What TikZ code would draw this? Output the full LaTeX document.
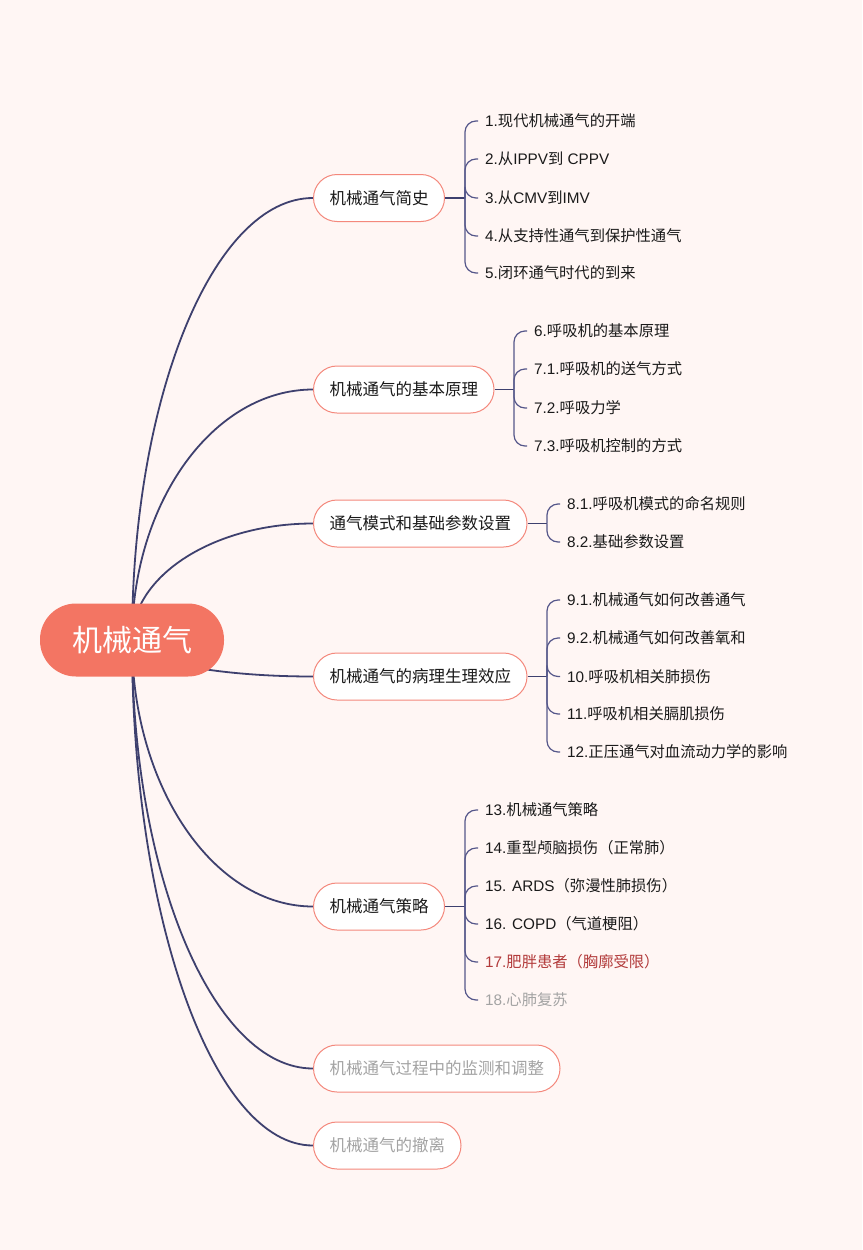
\documentclass[tikz,border=0pt]{standalone}
\usepackage{fontspec}
\setmainfont{Noto Sans CJK SC}
\newfontfamily\latf{Liberation Sans}
\newcommand{\lat}[1]{{\latf #1}}
\usetikzlibrary{backgrounds,calc}
\definecolor{bgc}{HTML}{FFF6F4}
\definecolor{rootc}{HTML}{F37563}
\definecolor{bordc}{HTML}{F4887C}
\definecolor{linec}{HTML}{3E406E}
\definecolor{leafc}{HTML}{55578A}
\definecolor{txtc}{HTML}{1A1A1A}
\definecolor{grayc}{HTML}{A3A3A3}
\definecolor{redc}{HTML}{B23A3A}
\tikzset{
  rootnode/.style={fill=rootc,draw=none,text=white,rounded corners=36pt,minimum height=73pt,inner xsep=32pt,font=\fontsize{30}{36}\selectfont},
  branchnode/.style={fill=white,draw=bordc,line width=1pt,text=txtc,rounded corners=23.5pt,minimum height=47pt,inner xsep=16pt,anchor=west,font=\fontsize{16.5}{20}\selectfont},
  leafnode/.style={anchor=west,inner xsep=7pt,inner ysep=2pt,text=txtc,font=\fontsize{15.3}{18}\selectfont},
  bl/.style={draw=linec,line width=1.8pt},
  leafl/.style={draw=leafc,line width=1.2pt,rounded corners=11pt},
  ellcurve/.style={to path={let \p1=(\tikztostart), \p2=(\tikztotarget) in .. controls (\x1,{\y1+0.55*(\y2-\y1)}) and ({\x2-0.55*(\x2-\x1)},\y2) .. (\tikztotarget)}}
}
\begin{document}
\begin{tikzpicture}[x=1pt,y=-1pt]
\useasboundingbox (0,0) rectangle (862,1250);
% root
\node[rootnode] (root) at (132,640) {机械通气};
% branches
\node[branchnode] (b1) at (313,198) {机械通气简史};
\node[branchnode] (b2) at (313,389.5) {机械通气的基本原理};
\node[branchnode] (b3) at (313,523.5) {通气模式和基础参数设置};
\node[branchnode] (b4) at (313,676.5) {机械通气的病理生理效应};
\node[branchnode] (b5) at (313,906.5) {机械通气策略};
\node[branchnode,text=grayc] (b6) at (313,1068.5) {机械通气过程中的监测和调整};
\node[branchnode,text=grayc] (b7) at (313,1145.5) {机械通气的撤离};
% junctions
\coordinate (j1) at (465,198);
\coordinate (j2) at (514,389.5);
\coordinate (j3) at (547,523.5);
\coordinate (j4) at (547,676.5);
\coordinate (j5) at (465,906.5);
% leaves of b1
\node[leafnode] (l11) at (478,121) {\lat{1.}现代机械通气的开端};
\node[leafnode] (l12) at (478,159) {\lat{2.}从\lat{IPPV}到\lat{ CPPV}};
\node[leafnode] (l13) at (478,198) {\lat{3.}从\lat{CMV}到\lat{IMV}};
\node[leafnode] (l14) at (478,236) {\lat{4.}从支持性通气到保护性通气};
\node[leafnode] (l15) at (478,273) {\lat{5.}闭环通气时代的到来};
% leaves of b2
\node[leafnode] (l21) at (527,331) {\lat{6.}呼吸机的基本原理};
\node[leafnode] (l22) at (527,369) {\lat{7.1.}呼吸机的送气方式};
\node[leafnode] (l23) at (527,408) {\lat{7.2.}呼吸力学};
\node[leafnode] (l24) at (527,446) {\lat{7.3.}呼吸机控制的方式};
% leaves of b3
\node[leafnode] (l31) at (560,504) {\lat{8.1.}呼吸机模式的命名规则};
\node[leafnode] (l32) at (560,542) {\lat{8.2.}基础参数设置};
% leaves of b4
\node[leafnode] (l41) at (560,600) {\lat{9.1.}机械通气如何改善通气};
\node[leafnode] (l42) at (560,638) {\lat{9.2.}机械通气如何改善氧和};
\node[leafnode] (l43) at (560,676.5) {\lat{10.}呼吸机相关肺损伤};
\node[leafnode] (l44) at (560,714) {\lat{11.}呼吸机相关膈肌损伤};
\node[leafnode] (l45) at (560,752) {\lat{12.}正压通气对血流动力学的影响};
% leaves of b5
\node[leafnode] (l51) at (478,810) {\lat{13.}机械通气策略};
\node[leafnode] (l52) at (478,848) {\lat{14.}重型颅脑损伤（正常肺）};
\node[leafnode] (l53) at (478,886) {\lat{15. ARDS}（弥漫性肺损伤）};
\node[leafnode] (l54) at (478,924) {\lat{16. COPD}（气道梗阻）};
\node[leafnode,text=redc] (l55) at (478,962) {\lat{17.}肥胖患者（胸廓受限）};
\node[leafnode,text=grayc] (l56) at (478,1000) {\lat{18.}心肺复苏};
\begin{pgfonlayer}{background}
\fill[bgc] (0,0) rectangle (862,1250);
\foreach \b in {b1,b2,b3,b4,b5,b6,b7}
  \draw[bl] (root.center) to[ellcurve] (\b.west);
\draw[bl] (b1.east) -- (j1);
\draw[bl] (b2.east) -- (j2);
\draw[bl] (b3.east) -- (j3);
\draw[bl] (b4.east) -- (j4);
\draw[bl] (b5.east) -- (j5);
\foreach \l in {l11,l12,l13,l14,l15} \draw[leafl] (j1) |- (\l.west);
\foreach \l in {l21,l22,l23,l24} \draw[leafl] (j2) |- (\l.west);
\foreach \l in {l31,l32} \draw[leafl] (j3) |- (\l.west);
\foreach \l in {l41,l42,l43,l44,l45} \draw[leafl] (j4) |- (\l.west);
\foreach \l in {l51,l52,l53,l54,l55,l56} \draw[leafl] (j5) |- (\l.west);
\end{pgfonlayer}
\end{tikzpicture}
\end{document}
